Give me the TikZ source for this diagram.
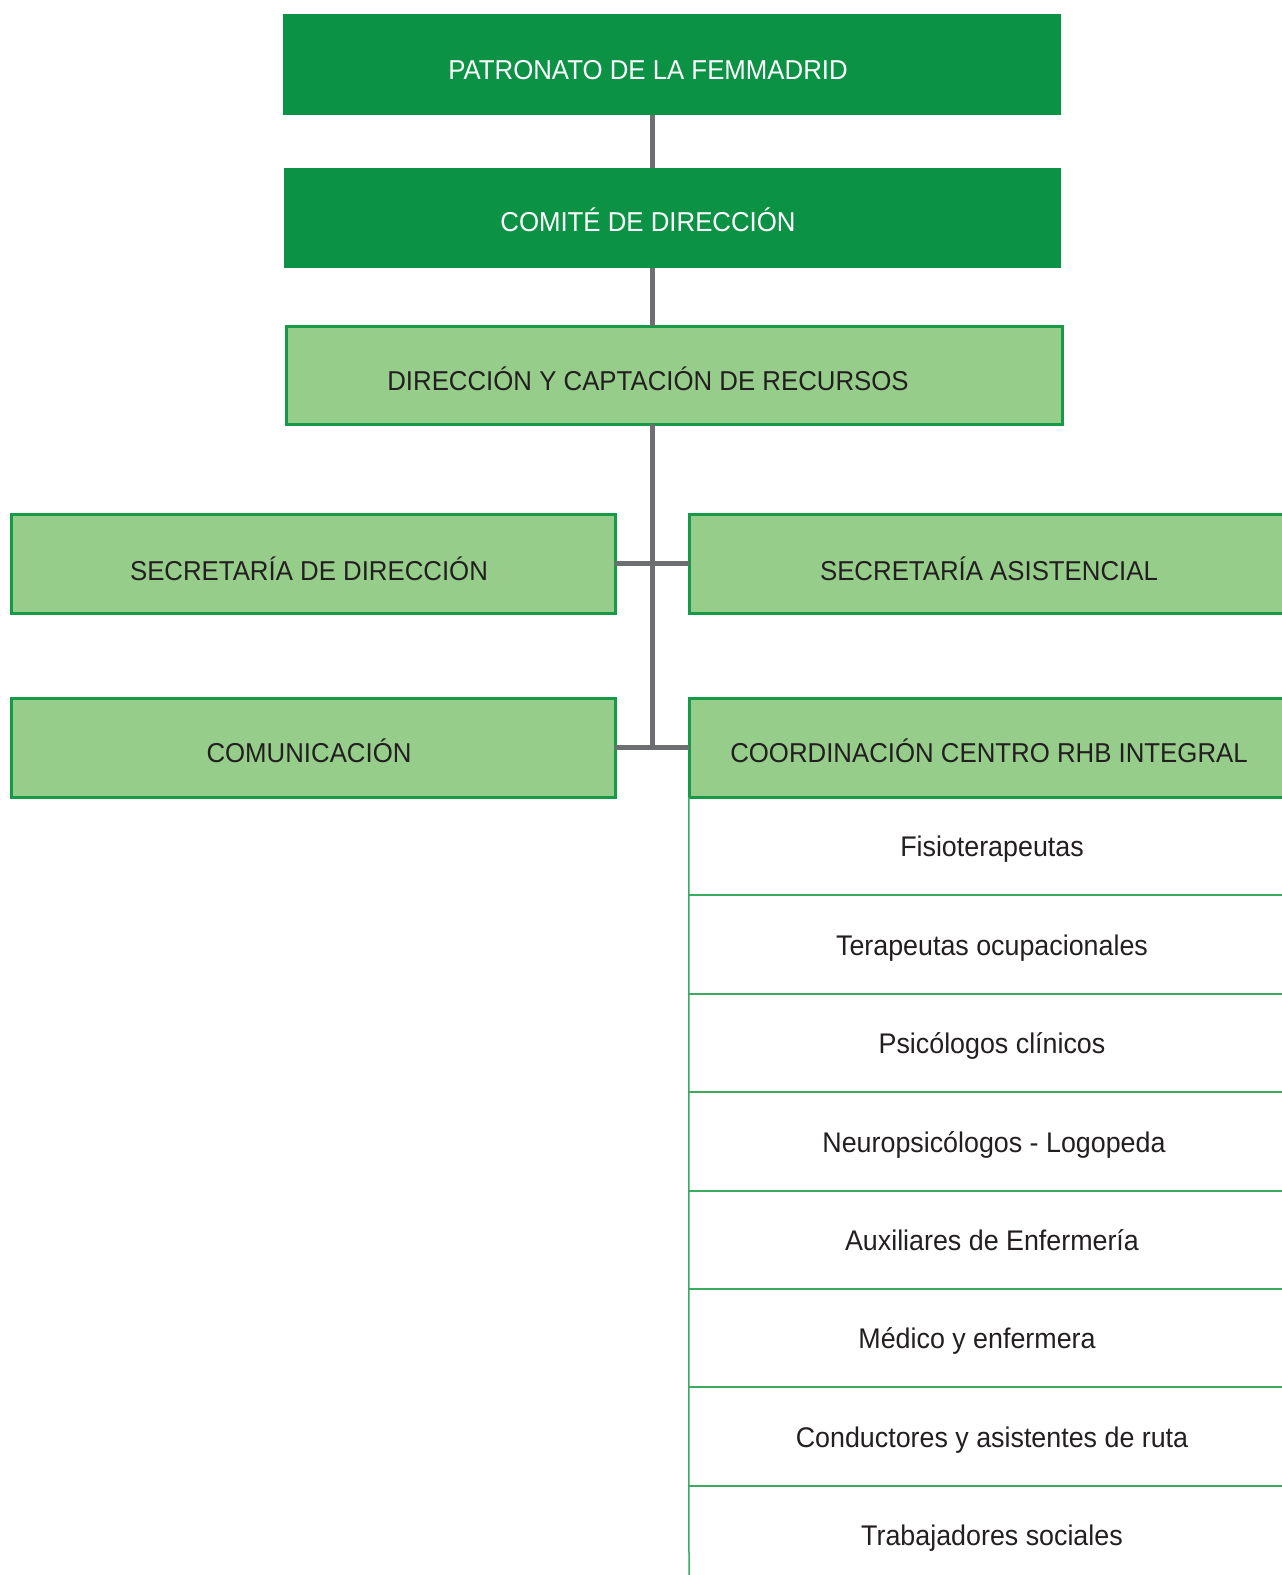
\documentclass[tikz,border=0pt]{standalone}
\usepackage{fontspec}
\setmainfont[FakeStretch=0.945]{Liberation Sans}
\definecolor{darkg}{RGB}{12,146,68}
\definecolor{lightg}{RGB}{150,205,138}
\definecolor{borderg}{RGB}{22,154,72}
\definecolor{lineg}{RGB}{60,170,95}
\definecolor{conn}{RGB}{109,110,113}
\definecolor{txt}{RGB}{35,31,32}
\tikzset{
  x=1pt, y=-1pt,
  lbl/.style={font=\fontsize{27.3}{30}\selectfont, inner sep=0pt, text height=0.72em, text depth=0pt, yshift=-7pt},
  item/.style={lbl, font=\fontsize{28.4}{31}\selectfont, text=txt},
  darkbox/.style={rectangle, fill=darkg, draw=none, inner sep=0pt},
  lightbox/.style={rectangle, fill=lightg, draw=borderg, line width=3pt, inner sep=0pt},
  connector/.style={draw=conn, line width=5pt},
  sep/.style={draw=lineg, line width=2pt},
}
\begin{document}
\begin{tikzpicture}
\clip (0,0) rectangle (1282,1575);
\fill[white] (0,0) rectangle (1282,1575);
% boxes
\path[darkbox] (283,14) rectangle (1061,115);
\path[darkbox] (284,168) rectangle (1061,268);
\draw[lightbox] (286,326) rectangle (1062,424);
\draw[lightbox] (11,514) rectangle (615,613);
\draw[lightbox] (689,514) rectangle (1300,613);
\draw[lightbox] (11,698) rectangle (615,797);
\draw[lightbox] (689,698) rectangle (1300,797);
% anchor nodes for each box
\node[inner sep=0pt, minimum width=778pt, minimum height=101pt] (pat) at (672,64.5) {};
\node[inner sep=0pt, minimum width=777pt, minimum height=100pt] (com) at (672.5,218) {};
\node[inner sep=0pt, minimum width=776pt, minimum height=98pt] (dir) at (674,375) {};
\node[inner sep=0pt, minimum width=604pt, minimum height=99pt] (sd) at (313,563.5) {};
\node[inner sep=0pt, minimum width=611pt, minimum height=99pt] (sa) at (994.5,563.5) {};
\node[inner sep=0pt, minimum width=604pt, minimum height=99pt] (cm) at (313,747.5) {};
\node[inner sep=0pt, minimum width=611pt, minimum height=99pt] (co) at (994.5,747.5) {};
% labels
\node[lbl, text=white] (tpat) at (648,69) {PATRONATO DE LA FEMMADRID};
\node[lbl, text=white] (tcom) at (648,221) {COMITÉ DE DIRECCIÓN};
\node[lbl, text=txt] (tdir) at (648,380) {DIRECCIÓN Y CAPTACIÓN DE RECURSOS};
\node[lbl, text=txt] (tsd) at (309,570) {SECRETARÍA DE DIRECCIÓN};
\node[lbl, text=txt] (tsa) at (989,570) {SECRETARÍA ASISTENCIAL};
\node[lbl, text=txt] (tcm) at (309,752) {COMUNICACIÓN};
\node[lbl, text=txt] (tco) at (989,752) {COORDINACIÓN CENTRO RHB INTEGRAL};
% connectors
\coordinate (trunk) at (652,0);
\coordinate (jb) at (652,747.5);
\draw[connector] (pat.south -| trunk) -- (com.north -| trunk);
\draw[connector] (com.south -| trunk) -- (dir.north -| trunk);
\draw[connector] (dir.south -| trunk) -- (jb);
\draw[connector] (sd.east) -- (sa.west);
\draw[connector] (cm.east) -- (co.west);
% list
\coordinate (lb) at (689,1580);
\coordinate (re) at (1290,0);
\draw[sep, line width=1.5pt] (co.south west) -- (lb);
\foreach \k in {1,...,7}{
  \coordinate (s\k) at (689,{797+98.4*\k});
  \draw[sep] (s\k) -- (s\k -| re);
}
\node[item] (i1) at (992,846) {Fisioterapeutas};
\node[item] (i2) at (992,944.6) {Terapeutas ocupacionales};
\node[item] (i3) at (992,1043) {Psicólogos clínicos};
\node[item] (i4) at (994,1141.4) {Neuropsicólogos - Logopeda};
\node[item] (i5) at (992,1239.8) {Auxiliares de Enfermería};
\node[item] (i6) at (977,1338.2) {Médico y enfermera};
\node[item] (i7) at (992,1436.6) {Conductores y asistentes de ruta};
\node[item] (i8) at (992,1535) {Trabajadores sociales};
\end{tikzpicture}
\end{document}
